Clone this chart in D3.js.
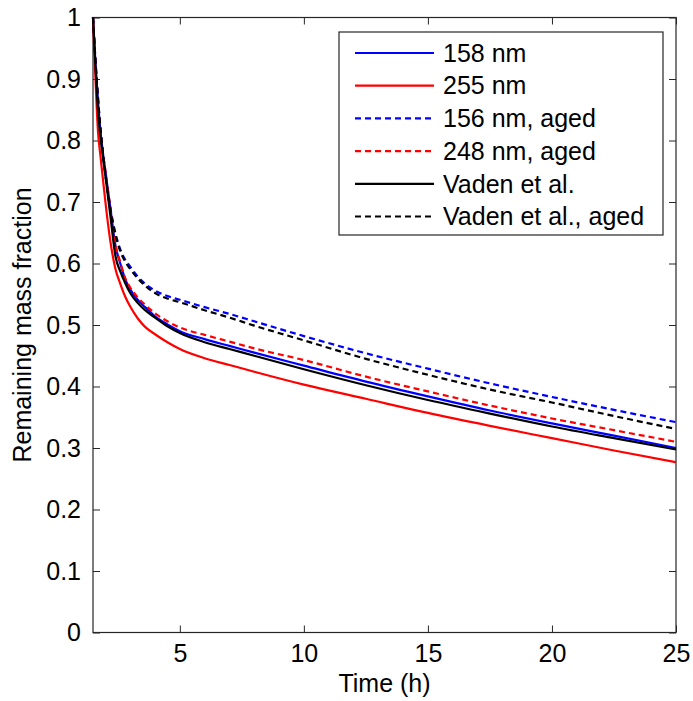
<!DOCTYPE html>
<html>
<head>
<meta charset="utf-8">
<script src="https://cdn.jsdelivr.net/npm/d3@7"></script>
<style>
  body { margin: 0; background: #fff; }
  text { font-family: "Liberation Sans", Arial, sans-serif; fill: #000; }
</style>
</head>
<body>
<script>
// time in hours
var time = [1.5, 1.6, 1.7, 1.8, 1.9, 2.0, 2.2, 2.4, 2.6, 2.8, 3.0, 3.3, 3.6, 4.0, 4.5, 5, 6, 7, 8, 10, 12.5, 15, 17.5, 20, 22.5, 25];

// remaining mass fraction for each run
var nm158 = [1.0, 0.925, 0.865, 0.815, 0.78, 0.75, 0.69, 0.63, 0.60, 0.574, 0.558, 0.541, 0.529, 0.514, 0.501, 0.490, 0.477, 0.466, 0.455, 0.434, 0.408, 0.384, 0.361, 0.340, 0.320, 0.300];
var nm255 = [1.0, 0.90, 0.815, 0.775, 0.737, 0.70, 0.636, 0.592, 0.567, 0.546, 0.530, 0.511, 0.497, 0.485, 0.472, 0.461, 0.446, 0.435, 0.424, 0.403, 0.380, 0.357, 0.336, 0.316, 0.296, 0.277];
var nm156aged = [1.0, 0.93, 0.87, 0.82, 0.78, 0.745, 0.69, 0.65, 0.623, 0.606, 0.595, 0.579, 0.567, 0.556, 0.547, 0.541, 0.529, 0.518, 0.506, 0.482, 0.454, 0.429, 0.405, 0.383, 0.362, 0.342];
var nm248aged = [1.0, 0.925, 0.865, 0.815, 0.78, 0.75, 0.69, 0.632, 0.602, 0.576, 0.561, 0.545, 0.533, 0.519, 0.506, 0.496, 0.484, 0.473, 0.462, 0.443, 0.416, 0.392, 0.369, 0.348, 0.329, 0.310];
var vaden = [1.0, 0.92, 0.85, 0.806, 0.774, 0.742, 0.678, 0.613, 0.587, 0.568, 0.552, 0.536, 0.524, 0.512, 0.498, 0.487, 0.472, 0.461, 0.450, 0.428, 0.402, 0.378, 0.356, 0.335, 0.316, 0.2975];
var vadenAged = [1.0, 0.93, 0.87, 0.82, 0.78, 0.745, 0.688, 0.647, 0.62, 0.603, 0.591, 0.576, 0.564, 0.552, 0.543, 0.537, 0.524, 0.512, 0.499, 0.475, 0.445, 0.419, 0.395, 0.374, 0.352, 0.331];

var labels = ["158 nm", "255 nm", "156 nm, aged", "248 nm, aged", "Vaden et al.", "Vaden et al., aged"];
var xTicks = [5, 10, 15, 20, 25];
var yTicks = [0, 0.1, 0.2, 0.3, 0.4, 0.5, 0.6, 0.7, 0.8, 0.9, 1];

// settings for canvas
var settings = {
    width: 693,
    height: 701,
    left: 93,
    right: 676,
    top: 17.5,
    bottom: 632.5,
    axisColor: "#262626",
    fontSize: 25,
    lineWidth: 2.2
}

var series = [
    {name: labels[0], values: nm158, color: "#0000ff", dash: null},
    {name: labels[1], values: nm255, color: "#ff0000", dash: null},
    {name: labels[2], values: nm156aged, color: "#0000ff", dash: "6,4"},
    {name: labels[3], values: nm248aged, color: "#ff0000", dash: "6,4"},
    {name: labels[4], values: vaden, color: "#000000", dash: null},
    {name: labels[5], values: vadenAged, color: "#000000", dash: "6,4"}
];

var svg = d3.select("body").append("svg")
    .attr("width", settings.width)
    .attr("height", settings.height);

var x = d3.scaleLinear().domain([1.5, 25]).range([settings.left, settings.right]);
var y = d3.scaleLinear().domain([0, 1]).range([settings.bottom, settings.top]);

//axes with inward ticks, labels only on bottom and left
var fmt = d3.format("~g");
function styleAxis(g) {
    g.select(".domain").remove();
    g.selectAll(".tick line").attr("stroke", settings.axisColor);
    g.selectAll(".tick text").style("font-size", settings.fontSize + "px");
}

svg.append("g")
    .attr("transform", "translate(0," + settings.bottom + ")")
    .call(d3.axisBottom(x).tickValues(xTicks).tickSizeInner(-7).tickSizeOuter(0).tickPadding(12).tickFormat(fmt))
    .call(styleAxis);
svg.append("g")
    .attr("transform", "translate(0," + settings.top + ")")
    .call(d3.axisTop(x).tickValues(xTicks).tickSizeInner(-7).tickSizeOuter(0).tickFormat(""))
    .call(styleAxis);
svg.append("g")
    .attr("transform", "translate(" + settings.left + ",0)")
    .call(d3.axisLeft(y).tickValues(yTicks).tickSizeInner(-7).tickSizeOuter(0).tickPadding(12).tickFormat(fmt))
    .call(styleAxis);
svg.append("g")
    .attr("transform", "translate(" + settings.right + ",0)")
    .call(d3.axisRight(y).tickValues(yTicks).tickSizeInner(-7).tickSizeOuter(0).tickFormat(""))
    .call(styleAxis);

//plot box
svg.append("rect")
    .attr("x", settings.left)
    .attr("y", settings.top)
    .attr("width", settings.right - settings.left)
    .attr("height", settings.bottom - settings.top)
    .attr("fill", "none")
    .attr("stroke", settings.axisColor)
    .attr("stroke-width", 1.2);

//curves
var line = d3.line()
    .x((d, i) => x(time[i]))
    .y((d) => y(d))
    .curve(d3.curveMonotoneX);

svg.append("g").selectAll("path")
    .data(series)
    .enter().append("path")
    .attr("d", (d) => line(d.values))
    .attr("fill", "none")
    .attr("stroke", (d) => d.color)
    .attr("stroke-width", settings.lineWidth)
    .attr("stroke-dasharray", (d) => d.dash);

//axis labels
svg.append("text")
    .attr("x", (settings.left + settings.right) / 2)
    .attr("y", 692)
    .attr("text-anchor", "middle")
    .style("font-size", settings.fontSize + "px")
    .text("Time (h)");

svg.append("text")
    .attr("transform", "translate(31," + (settings.top + settings.bottom) / 2 + ") rotate(-90)")
    .attr("text-anchor", "middle")
    .style("font-size", settings.fontSize + "px")
    .text("Remaining mass fraction");

//legend
var legend = svg.append("g").attr("transform", "translate(339,32)");
legend.append("rect")
    .attr("width", 324)
    .attr("height", 203)
    .attr("fill", "#fff")
    .attr("stroke", settings.axisColor)
    .attr("stroke-width", 1.2);

var row = legend.selectAll(".row")
    .data(series)
    .enter().append("g")
    .attr("transform", (d, i) => "translate(0," + (21 + i * 32.7) + ")");

row.append("line")
    .attr("x1", 16)
    .attr("x2", 95)
    .attr("stroke", (d) => d.color)
    .attr("stroke-width", settings.lineWidth)
    .attr("stroke-dasharray", (d) => d.dash);

row.append("text")
    .attr("x", 104)
    .attr("dy", "0.35em")
    .style("font-size", settings.fontSize + "px")
    .text((d) => d.name);
</script>
</body>
</html>
